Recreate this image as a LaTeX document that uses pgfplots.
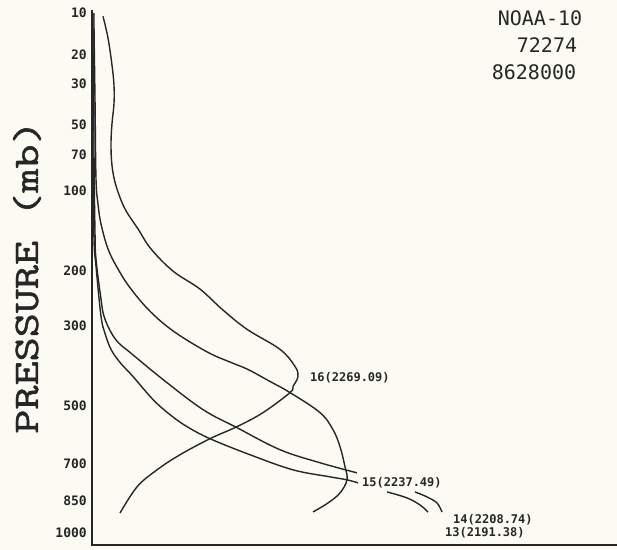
\documentclass[border=0pt]{standalone}
\usepackage{pgfplots}
\pgfplotsset{compat=1.18}
\usepackage{fontspec}
\setmainfont{DejaVu Sans}
\newfontfamily\monofont{DejaVu Sans Mono}
\newfontfamily\lmttbold[FakeBold=1.3]{Latin Modern Mono}
\definecolor{paper}{RGB}{251,251,244}
\definecolor{ink}{RGB}{38,38,38}

% Weighting functions, x = relative weight (arbitrary units), y = pressure (mb)
\pgfplotstableread{
x y
11 10.6
16 15.4
20 23.3
22 30.8
22 38.9
20 49.5
19 62.1
20 78.3
24 95.6
33 118.6
46 141.5
59 167.5
81 200
108 229.5
130 266.0
155 306.5
188 351.1
203 392.6
206 418.6
201 445.6
198 462.6
171 522.1
145 566.8
118 607.5
88 664.6
65 721.8
45 790.6
28 905
}\chsixteen
\pgfplotstableread{
x y
2 13.1
3 36.5
4 89.3
6 113.3
9 135.5
16 167.5
26 196.8
39 229.5
59 271.9
83 312.9
116 358.2
139 382.6
156 400.3
178 431.8
198 462.6
228 522.1
241 576.8
248 635.6
253 710.1
255 761.7
248 816
236 859.5
221 900
}\chfifteen
\pgfplotstableread{
x y
2 10
2 65.5
3 145.3
4 181.8
9 247.3
12 279.7
19 312.9
27 337.2
38 358.2
71 426.6
111 512.8
145 570.2
188 646.3
228 694.6
265 733.6
}\chfourteenA
\pgfplotstableread{
x y
323 811.7
335 833.1
345 859.5
350 900.3
}\chfourteenB
\pgfplotstableread{
x y
1 10
1 65.5
2 154.2
4 192.2
9 279.7
13 315.1
19 351.1
28 382.6
41 418.6
61 482.8
78 528.4
95 566.8
118 607.5
158 664.6
201 721.8
238 749.6
255 761.7
266 774.0
}\chthirteenA
\pgfplotstableread{
x y
295 811.7
315 837.4
328 868.4
336 900.3
}\chthirteenB

\begin{document}
\begin{tikzpicture}
\useasboundingbox[fill=paper] (0,0) rectangle (617bp,550bp);
\begin{axis}[
  at={(92bp,5bp)}, anchor=south west,
  scale only axis, width=525bp, height=535bp,
  xmin=0, xmax=525, xtick=\empty,
  y dir=reverse,
  y coord trafo/.code={\pgfmathparse{(#1)^(2/7)}},
  y coord inv trafo/.code={\pgfmathparse{(#1)^(3.5)}},
  ymin=9.45, ymax=1060,
  ytick={10,20,30,50,70,100,200,300,500,700,850,1000},
  yticklabels={10,20,30,50,70,100,200,300,500,700,850,1000},
  yticklabel style={anchor=east, inner sep=0pt, xshift=-5bp,
    font=\monofont\bfseries\fontsize{13bp}{13bp}\selectfont, text=ink},
  major tick length=0pt,
  axis line style={draw=none},
  clip=false,
  wf/.style={draw=ink, line width=1.4bp, smooth, tension=0.6, mark=none},
]
\addplot[wf] table {\chsixteen};
\addplot[wf] table {\chfifteen};
\addplot[wf] table {\chfourteenA};
\addplot[wf] table {\chfourteenB};
\addplot[wf] table {\chthirteenA};
\addplot[wf] table {\chthirteenB};
\node[anchor=west, inner sep=0pt, text=ink, font=\monofont\bfseries\fontsize{12bp}{12bp}\selectfont] at (axis cs:218,421) {16(2269.09)};
\node[anchor=west, inner sep=0pt, text=ink, font=\monofont\bfseries\fontsize{12bp}{12bp}\selectfont] at (axis cs:270,774) {15(2237.49)};
\node[anchor=west, inner sep=0pt, text=ink, font=\monofont\bfseries\fontsize{12bp}{12bp}\selectfont] at (axis cs:361,938) {14(2208.74)};
\node[anchor=west, inner sep=0pt, text=ink, font=\monofont\bfseries\fontsize{12bp}{12bp}\selectfont] at (axis cs:353,1000) {13(2191.38)};
\end{axis}
\draw[ink, line width=2bp] (92bp,540bp) -- (92bp,5bp) -- (617bp,5bp);
\node[rotate=90, text=ink, inner sep=0pt] at (27bp,273bp) {\scalebox{1.3}[1]{\lmttbold\fontsize{36bp}{36bp}\selectfont PRESSURE (mb)}};
\node[text=ink, font=\monofont\fontsize{20bp}{20bp}\selectfont] at (540bp,532bp) {NOAA-10};
\node[text=ink, font=\monofont\fontsize{20bp}{20bp}\selectfont] at (547bp,505bp) {72274};
\node[text=ink, font=\monofont\fontsize{20bp}{20bp}\selectfont] at (534bp,478bp) {8628000};
\end{tikzpicture}
\end{document}
